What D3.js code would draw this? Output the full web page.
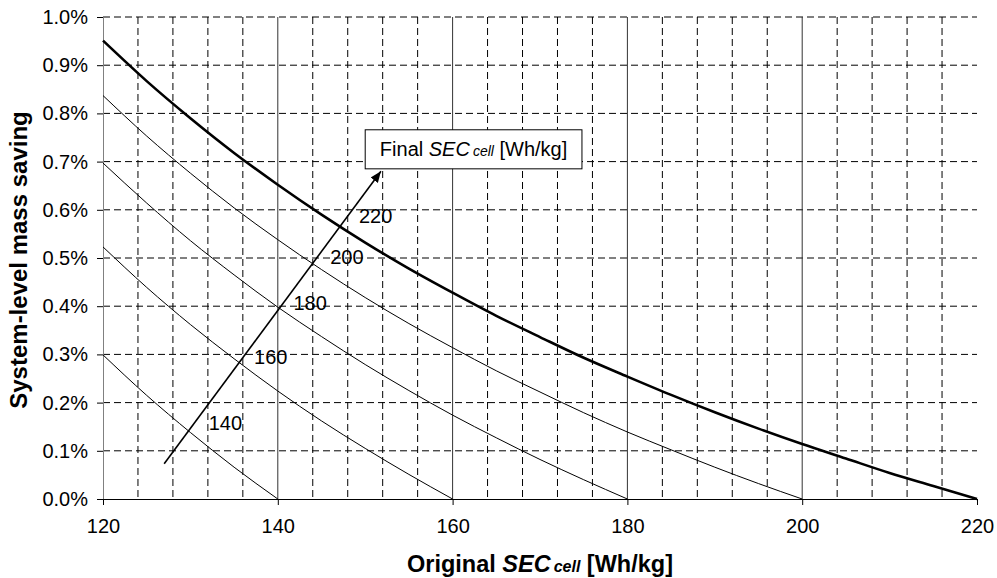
<!DOCTYPE html>
<meta charset="utf-8" />
<style>
  body { margin: 0; background: #fff; }
  text { font-family: "Liberation Sans", Arial, sans-serif; fill: #000; }
  .grid line { stroke: #000; stroke-width: 1; stroke-dasharray: 7, 4; }
  .major line { stroke: #333; stroke-width: 1; }
  .curve { fill: none; stroke: #000; stroke-width: 1; }
  .curve.top { stroke-width: 2.6; }
</style>
<svg width="997" height="578"></svg>
<script src="https://d3js.org/d3.v7.min.js"></script>
<script>
  // original SEC of the cell [Wh/kg]
  var origSEC = [120, 125, 130, 135, 140, 145, 150, 155, 160, 165, 170,
                 175, 180, 185, 190, 195, 200, 205, 210, 215, 220];
  // final SEC of the cell, one curve each
  var finalSEC = [140, 160, 180, 200, 220];
  // mass saving in %, read at each origSEC until the curve reaches 0
  var saving140 = [0.299, 0.215, 0.138, 0.066, 0];
  var saving160 = [0.523, 0.439, 0.362, 0.291, 0.224, 0.162, 0.105, 0.051, 0];
  var saving180 = [0.697, 0.614, 0.536, 0.465, 0.398, 0.337, 0.279, 0.225,
                   0.174, 0.127, 0.082, 0.040, 0];
  var saving200 = [0.837, 0.753, 0.676, 0.604, 0.538, 0.476, 0.418, 0.364,
                   0.314, 0.266, 0.222, 0.179, 0.139, 0.102, 0.066, 0.032, 0];
  var saving220 = [0.951, 0.867, 0.790, 0.718, 0.652, 0.590, 0.532, 0.478,
                   0.428, 0.380, 0.336, 0.293, 0.254, 0.216, 0.180, 0.146,
                   0.114, 0.084, 0.054, 0.027, 0];
  var yTicks = [0, 0.1, 0.2, 0.3, 0.4, 0.5, 0.6, 0.7, 0.8, 0.9, 1.0];
  var xTicks = [120, 140, 160, 180, 200, 220];

  var svg = d3.select("svg"),
    margin = { top: 17, right: 20, bottom: 79, left: 103 },
    width = 997 - margin.left - margin.right,
    height = 578 - margin.top - margin.bottom;

  var g = svg.append("g")
    .attr("transform", "translate(" + margin.left + "," + margin.top + ")");

  var x = d3.scaleLinear().domain([120, 220]).range([0, width]);
  var y = d3.scaleLinear().domain([0, 1]).range([height, 0]);

  // dashed horizontal grid
  g.append("g").attr("class", "grid")
    .selectAll("line").data(yTicks.slice(1)).enter().append("line")
    .attr("x1", 0).attr("x2", width)
    .attr("y1", function (d) { return y(d); })
    .attr("y2", function (d) { return y(d); });

  // dashed vertical grid every 4 Wh/kg
  var minor = d3.range(124, 220, 4).filter(function (d) { return (d - 120) % 20 !== 0; });
  g.append("g").attr("class", "grid")
    .selectAll("line").data(minor).enter().append("line")
    .attr("x1", function (d) { return x(d); })
    .attr("x2", function (d) { return x(d); })
    .attr("y1", 0).attr("y2", height);

  // solid vertical lines at the labelled ticks
  g.append("g").attr("class", "major")
    .selectAll("line").data(xTicks.slice(1, -1)).enter().append("line")
    .attr("x1", function (d) { return x(d); })
    .attr("x2", function (d) { return x(d); })
    .attr("y1", 0).attr("y2", height);

  // axes
  var yAxis = g.append("g")
    .call(d3.axisLeft(y).tickValues(yTicks).tickSizeInner(6).tickSizeOuter(0)
      .tickPadding(9).tickFormat(function (d) { return d.toFixed(1) + "%"; }));
  yAxis.select(".domain").attr("stroke", "#808080");
  yAxis.selectAll("text").style("font-size", "20px");

  var xAxis = g.append("g")
    .attr("transform", "translate(0," + height + ")")
    .call(d3.axisBottom(x).tickValues(xTicks).tickSizeInner(6).tickSizeOuter(0)
      .tickPadding(14).tickFormat(d3.format("d")));
  xAxis.selectAll("text").style("font-size", "20px");

  // curves
  var allSavings = [saving140, saving160, saving180, saving200, saving220];
  var series = finalSEC.map(function (f, i) {
    return {
      final: f,
      points: allSavings[i].map(function (v, j) { return [origSEC[j], v]; })
    };
  });

  var line = d3.line()
    .x(function (d) { return x(d[0]); })
    .y(function (d) { return y(d[1]); })
    .curve(d3.curveMonotoneX);

  g.selectAll(".curve").data(series).enter().append("path")
    .attr("class", function (d) { return d.final === 220 ? "curve top" : "curve"; })
    .attr("d", function (d) { return line(d.points); });

  // curve labels
  var labelAt = [[134.0, 0.158], [139.2, 0.295], [143.7, 0.407], [147.9, 0.502], [151.2, 0.587]];
  g.selectAll(".clabel").data(series).enter().append("text")
    .attr("class", "clabel")
    .attr("x", function (d, i) { return x(labelAt[i][0]); })
    .attr("y", function (d, i) { return y(labelAt[i][1]); })
    .attr("dy", "0.35em")
    .attr("text-anchor", "middle")
    .style("font-size", "20px")
    .text(function (d) { return d.final; });

  // arrow
  svg.append("defs").append("marker")
    .attr("id", "head")
    .attr("viewBox", "0 0 10 10")
    .attr("refX", 10).attr("refY", 5)
    .attr("markerWidth", 7).attr("markerHeight", 7)
    .attr("orient", "auto")
    .append("path").attr("d", "M0,1 L10,5 L0,9 Z").attr("fill", "#000");

  g.append("line")
    .attr("x1", x(127)).attr("y1", y(0.073))
    .attr("x2", x(151.8)).attr("y2", y(0.68))
    .attr("stroke", "#000").attr("stroke-width", 1.6)
    .attr("marker-end", "url(#head)");

  // label box
  g.append("rect")
    .attr("x", x(150)).attr("y", y(0.766))
    .attr("width", x(174.8) - x(150)).attr("height", y(0.685) - y(0.766))
    .attr("fill", "#fff").attr("stroke", "#000").attr("stroke-width", 1);

  var boxText = g.append("text")
    .attr("x", (x(150) + x(174.8)) / 2)
    .attr("y", (y(0.766) + y(0.685)) / 2)
    .attr("dy", "0.35em")
    .attr("text-anchor", "middle")
    .style("font-size", "20px");
  boxText.append("tspan").text("Final ");
  boxText.append("tspan").style("font-style", "italic").text("SEC");
  boxText.append("tspan").style("font-style", "italic").style("font-size", "14px").attr("dx", 3).text("cell");
  boxText.append("tspan").text(" [Wh/kg]");

  // axis titles
  var xTitle = svg.append("text")
    .attr("x", 540)
    .attr("y", 572)
    .attr("text-anchor", "middle")
    .style("font-size", "23.5px")
    .style("font-weight", "bold");
  xTitle.append("tspan").text("Original ");
  xTitle.append("tspan").style("font-style", "italic").text("SEC");
  xTitle.append("tspan").style("font-style", "italic").style("font-size", "16px").attr("dx", 3).text("cell");
  xTitle.append("tspan").text(" [Wh/kg]");

  svg.append("text")
    .attr("transform", "translate(27,260) rotate(-90)")
    .attr("text-anchor", "middle")
    .style("font-size", "24px")
    .style("font-weight", "bold")
    .text("System-level mass saving");
</script>
